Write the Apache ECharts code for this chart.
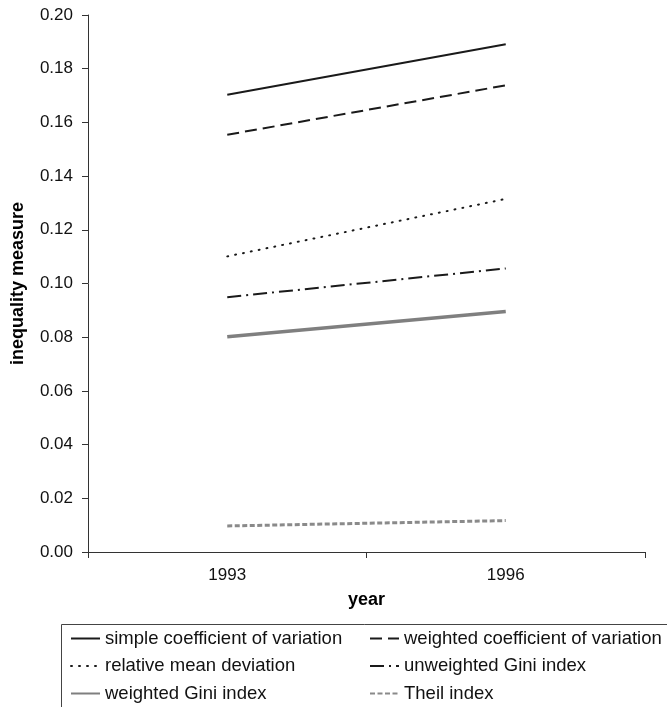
<!DOCTYPE html>
<html>
<head>
<meta charset="utf-8">
<script src="https://cdn.jsdelivr.net/npm/echarts@6/dist/echarts.min.js"></script>
<style>html,body{margin:0;padding:0;background:#fff}#c{width:667px;height:707px}</style>
</head>
<body>
<div id="c"></div>
<script>
const years = ['1993', '1996'];
const simpleCV = [0.1703, 0.1891];
const weightedCV = [0.1554, 0.1738];
const relMeanDev = [0.1101, 0.1315];
const unweightedGini = [0.0949, 0.1056];
const weightedGini = [0.0802, 0.0896];
const theil = [0.0097, 0.0117];
const legendCol1 = ['simple coefficient of variation', 'relative mean deviation', 'weighted Gini index'];
const legendCol2 = ['weighted coefficient of variation', 'unweighted Gini index', 'Theil index'];

const FONT = 'Liberation Sans, Arial, Helvetica, sans-serif';
const chart = echarts.init(document.getElementById('c'));

function ser(name, data, color, width, type) {
  return {
    name, type: 'line', data, symbol: 'none', showSymbol: false, silent: true,
    lineStyle: { color, width, type, cap: Array.isArray(type) && type[0] === 1 ? 'round' : 'butt' },
    itemStyle: { color }
  };
}

const rowTops = [629, 656.5, 684];
const legends = [];
legendCol1.forEach((n, i) => legends.push({ name: n, left: 70, top: rowTops[i] }));
legendCol2.forEach((n, i) => legends.push({ name: n, left: 369, top: rowTops[i] }));

chart.setOption({
  animation: false,
  textStyle: { fontFamily: FONT },
  grid: { left: 88, right: 22, top: 15, bottom: 155, containLabel: false },
  xAxis: {
    type: 'category', data: years, boundaryGap: true,
    name: 'year', nameLocation: 'middle', nameGap: 39,
    nameTextStyle: { fontWeight: 'bold', fontSize: 18, color: '#000', fontFamily: FONT },
    axisLine: { lineStyle: { color: '#333', width: 1 } },
    axisTick: { show: true, length: 6, alignWithLabel: false, lineStyle: { color: '#333' } },
    axisLabel: { fontSize: 17, color: '#111', margin: 15, fontFamily: FONT },
    splitLine: { show: false }
  },
  yAxis: {
    type: 'value', min: 0, max: 0.2, interval: 0.02,
    name: 'inequality measure', nameLocation: 'middle', nameGap: 61, nameRotate: 90,
    nameTextStyle: { fontWeight: 'bold', fontSize: 18, color: '#000', fontFamily: FONT },
    axisLine: { show: true, lineStyle: { color: '#333', width: 1 } },
    axisTick: { show: true, length: 6, lineStyle: { color: '#333' } },
    axisLabel: { fontSize: 17, color: '#111', margin: 15, fontFamily: FONT,
      formatter: v => v.toFixed(2) },
    splitLine: { show: false }
  },
  legend: legends.map(l => ({
    orient: 'horizontal', left: l.left, top: l.top, padding: 0,
    itemWidth: 29, itemHeight: 14, itemGap: 0,
    textStyle: { fontSize: 18.5, color: '#111', fontFamily: FONT, lineHeight: 14 },
    itemStyle: { opacity: 0 },
    selectedMode: false,
    data: [l.name]
  })),
  graphic: [{
    type: 'rect', left: 59, top: 622, silent: true,
    shape: { width: 640, height: 120 },
    style: { fill: 'none', stroke: '#444', lineWidth: 1 }
  }],
  series: [
    ser('simple coefficient of variation', simpleCV, '#1a1a1a', 2, 'solid'),
    ser('weighted coefficient of variation', weightedCV, '#1a1a1a', 2, [12, 6]),
    ser('relative mean deviation', relMeanDev, '#1a1a1a', 2, [1, 7]),
    ser('unweighted Gini index', unweightedGini, '#1a1a1a', 2, [14, 5, 2, 5]),
    ser('weighted Gini index', weightedGini, '#7f7f7f', 3.5, 'solid'),
    ser('Theil index', theil, '#8a8a8a', 3, [5, 2.5])
  ]
});
</script>
</body>
</html>
